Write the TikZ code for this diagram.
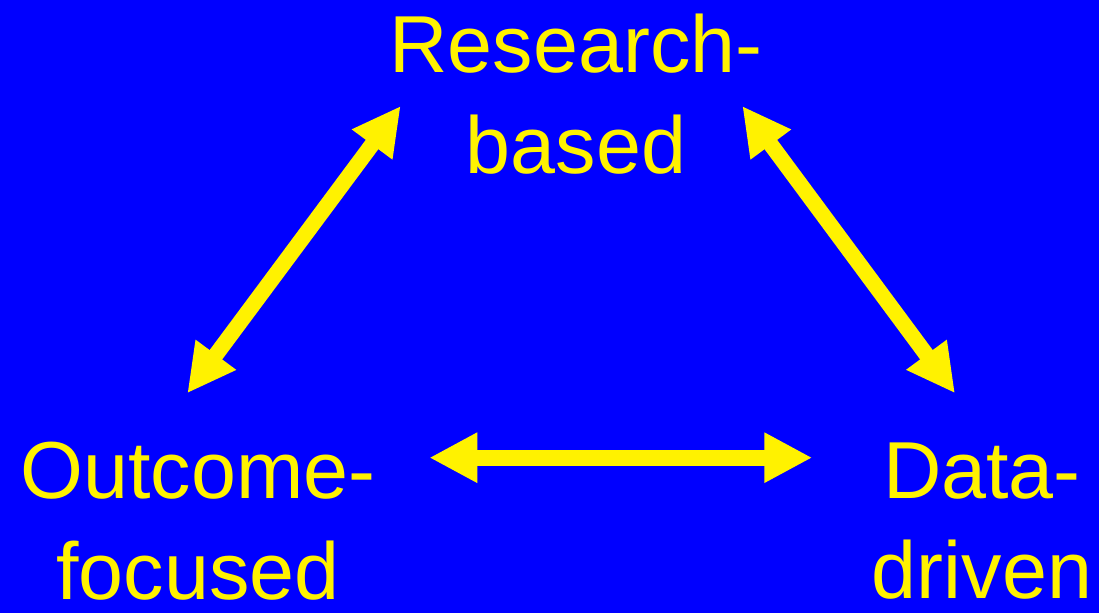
\documentclass[tikz,border=0pt]{standalone}
\usepackage{fontspec}
\setmainfont{Liberation Sans}
\usetikzlibrary{arrows.meta}

\begin{document}
\begin{tikzpicture}[
    label/.style={text=yellow,align=center,inner sep=0pt,
      font=\fontsize{23}{28.6}\selectfont},
    twoway/.style={draw=yellow,line width=0.157cm,
      {Triangle[length=0.48cm,width=0.47cm]}-{Triangle[length=0.48cm,width=0.47cm]}}
  ]

    \useasboundingbox (0,0) rectangle (10.99,6.13);
    \fill[blue] (0,0) rectangle (10.99,6.13);

    \node[label] (research) at (5.76,5.19) {Research-\\based};

    \node[label] (outcome) at (1.98,0.92) {Outcome-\\focused};

    \node[label] (data) at (9.82,0.92) {Data-\\driven};



    \coordinate (researchL) at (4.007,5.07);
    \coordinate (researchR) at (7.423,5.07);
    \coordinate (outcomeT) at (1.873,2.197);
    \coordinate (outcomeR) at (4.293,1.553);
    \coordinate (dataT) at (9.55,2.197);
    \coordinate (dataL) at (8.123,1.553);

    \draw[twoway] (researchL) -- (outcomeT);

    \draw[twoway] (researchR) -- (dataT);

    \draw[twoway] (outcomeR) -- (dataL);

\end{tikzpicture}
\end{document}
